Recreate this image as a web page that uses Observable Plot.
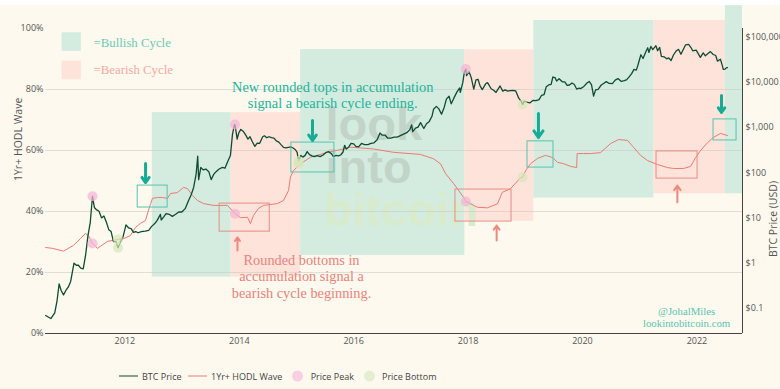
<!DOCTYPE html>
<html><head><meta charset="utf-8">
<script src="https://cdn.jsdelivr.net/npm/d3@7"></script>
<script src="https://cdn.jsdelivr.net/npm/@observablehq/plot@0.6"></script>
<style>
html,body{margin:0;padding:0;background:#fff;}
#wrap{position:relative;margin-top:5px;width:780px;height:384px;background:#fdf9ee;overflow:hidden;}
#legend{position:absolute;left:0;top:353px;width:780px;height:31px;font:9px "Open Sans",sans-serif;color:#444;}
.item{position:absolute;top:18px;transform:translateY(-50%);white-space:nowrap;line-height:1;}
</style></head><body><div id="wrap"><div id="chart"></div><div id="legend"></div></div>
<script>
// ---------- data ----------
const btcDates = [
 "2010-08-13","2010-09-15","2010-10-10","2010-10-25","2010-11-07","2010-11-20","2010-12-05","2010-12-20",
 "2011-01-05","2011-01-20","2011-02-10","2011-02-25","2011-03-10","2011-03-25","2011-04-10","2011-04-25","2011-05-10","2011-05-25","2011-06-08","2011-06-20","2011-07-05","2011-07-20","2011-08-05","2011-08-20","2011-09-05","2011-09-20","2011-10-05","2011-10-20","2011-11-05","2011-11-18","2011-12-05","2011-12-20",
 "2012-01-08","2012-01-25","2012-02-10","2012-02-25","2012-03-10","2012-03-25","2012-04-15","2012-05-10","2012-06-01","2012-06-20","2012-07-10","2012-07-25","2012-08-15","2012-08-20","2012-09-05","2012-09-20","2012-10-10","2012-10-30","2012-11-20","2012-12-10","2012-12-30",
 "2013-01-20","2013-02-10","2013-02-28","2013-03-15","2013-03-31","2013-04-10","2013-04-16","2013-04-30","2013-05-15","2013-06-01","2013-06-20","2013-07-05","2013-07-20","2013-08-05","2013-08-25","2013-09-15","2013-10-01","2013-10-20","2013-11-05","2013-11-18","2013-11-30","2013-12-04","2013-12-18","2013-12-28",
 "2014-01-10","2014-01-25","2014-02-10","2014-02-25","2014-03-10","2014-03-25","2014-04-10","2014-04-25","2014-05-10","2014-05-30","2014-06-10","2014-06-25","2014-07-10","2014-07-25","2014-08-10","2014-08-25","2014-09-10","2014-09-25","2014-10-10","2014-10-25","2014-11-10","2014-11-25","2014-12-10","2014-12-25",
 "2015-01-05","2015-01-14","2015-01-28","2015-02-10","2015-02-25","2015-03-10","2015-03-25","2015-04-10","2015-04-25","2015-05-15","2015-06-01","2015-06-20","2015-07-10","2015-07-25","2015-08-10","2015-08-25","2015-09-10","2015-09-25","2015-10-10","2015-10-25","2015-11-04","2015-11-15","2015-12-01","2015-12-15",
 "2016-01-01","2016-01-15","2016-02-01","2016-02-20","2016-03-10","2016-04-01","2016-04-20","2016-05-10","2016-05-30","2016-06-17","2016-07-01","2016-07-20","2016-08-05","2016-08-25","2016-09-15","2016-10-05","2016-10-25","2016-11-15","2016-12-05","2016-12-25",
 "2017-01-05","2017-01-12","2017-01-30","2017-02-15","2017-03-03","2017-03-24","2017-04-10","2017-04-28","2017-05-15","2017-05-25","2017-06-12","2017-06-28","2017-07-15","2017-08-01","2017-08-15","2017-09-01","2017-09-15","2017-10-01","2017-10-20","2017-11-08","2017-11-12","2017-11-28","2017-12-07","2017-12-17","2017-12-22",
 "2018-01-06","2018-01-20","2018-02-06","2018-02-20","2018-03-05","2018-03-18","2018-04-01","2018-04-25","2018-05-05","2018-05-28","2018-06-15","2018-06-28","2018-07-24","2018-08-10","2018-08-25","2018-09-10","2018-09-25","2018-10-15","2018-11-01","2018-11-20","2018-12-05","2018-12-15","2018-12-25",
 "2019-01-10","2019-01-30","2019-02-20","2019-03-10","2019-03-30","2019-04-15","2019-05-01","2019-05-15","2019-05-30","2019-06-15","2019-06-26","2019-07-10","2019-07-20","2019-08-05","2019-08-25","2019-09-10","2019-09-25","2019-10-10","2019-10-26","2019-11-10","2019-11-25","2019-12-10","2019-12-20",
 "2020-01-10","2020-01-30","2020-02-13","2020-02-28","2020-03-12","2020-03-25","2020-04-10","2020-04-30","2020-05-15","2020-06-01","2020-06-20","2020-07-10","2020-07-28","2020-08-15","2020-09-05","2020-09-25","2020-10-10","2020-10-25","2020-11-10","2020-11-25","2020-12-10","2020-12-20",
 "2021-01-08","2021-01-22","2021-02-08","2021-02-21","2021-02-28","2021-03-13","2021-03-25","2021-04-14","2021-04-25","2021-05-08","2021-05-19","2021-06-05","2021-06-22","2021-07-05","2021-07-20","2021-08-05","2021-08-22","2021-09-06","2021-09-21","2021-10-05","2021-10-20","2021-11-09","2021-11-25","2021-12-05","2021-12-27",
 "2022-01-10","2022-01-23","2022-02-10","2022-02-24","2022-03-28","2022-04-15","2022-05-01","2022-05-12","2022-05-31","2022-06-13","2022-06-18","2022-06-30","2022-07-10","2022-07-15"
];
const btcPrices = [
 0.07,0.06,0.08,0.15,0.35,0.25,0.20,0.25,
 0.30,0.40,1.0,0.90,0.90,0.78,0.75,1.5,4.0,8.0,30,17,15,14,10,11,8,5.5,5,3,3,2.2,3,3.8,
 7,6,5.8,4.8,5.0,4.7,5.0,5.1,5.3,6.5,7.5,8.8,12,9,10.5,12.5,12,10.8,12,13.5,13.5,
 16,24,33,47,93,230,70,130,115,120,105,70,90,105,120,130,125,180,240,700,1120,1150,550,750,
 900,820,680,550,620,480,380,450,440,620,650,590,620,590,580,500,470,410,360,350,360,370,350,320,
 280,180,240,220,240,290,250,235,225,238,225,245,280,290,265,225,240,235,245,285,400,330,370,440,
 430,380,370,440,415,415,440,455,530,750,670,670,580,575,610,610,655,710,760,890,
 1130,800,960,1010,1270,940,1200,1350,1750,2500,2900,2550,1950,2750,4200,4850,3300,4350,5900,7400,5900,9800,16000,19300,13900,
 17000,12800,7000,11200,11500,8200,6800,9300,9700,7100,6500,5900,8200,6300,6700,6300,6450,6500,6350,4400,3800,3200,3800,
 3600,3450,3950,3900,4100,5100,5300,7900,8600,8900,12900,12500,10500,11800,10100,10100,8400,8600,9500,8800,7000,7300,7150,
 8000,9500,10300,8700,4900,6700,6900,8600,9300,10200,9300,9250,11000,11900,10300,10700,11300,13000,15300,19000,18300,23500,
 40000,33000,46000,57000,45000,61000,52000,63500,49000,58000,37000,36000,32500,34000,29800,40000,49000,52500,41000,51500,66000,67500,57000,49000,50700,
 41800,35000,44000,38000,47000,40500,38500,29000,31800,22500,19000,19300,20800,20800
];
const hodlDates = [
 "2010-08-13","2010-09-27","2010-12-05","2011-02-07","2011-03-23","2011-04-24","2011-05-13","2011-06-08","2011-07-10","2011-09-12","2011-11-14","2011-12-23",
 "2012-02-05","2012-03-09","2012-04-09","2012-05-11","2012-05-30","2012-06-25","2012-07-27","2012-08-28","2012-09-29","2012-10-18","2012-12-01",
 "2013-01-10","2013-02-04","2013-03-08","2013-04-09","2013-05-17","2013-07-20","2013-10-17","2013-12-04",
 "2014-01-08","2014-02-22","2014-03-13","2014-04-01","2014-05-03","2014-06-04","2014-09-01","2014-10-10","2014-11-11","2014-11-23","2014-12-12",
 "2015-01-26","2015-03-31","2015-07-18","2015-10-28","2015-12-11","2016-05-07","2016-09-12",
 "2017-01-17","2017-03-03","2017-05-25","2017-07-09","2017-08-10","2017-10-01","2017-12-02","2017-12-17",
 "2018-03-01","2018-05-04","2018-07-07","2018-08-07","2018-09-27","2018-12-02","2018-12-15",
 "2019-01-03","2019-02-04","2019-03-20","2019-05-10","2019-06-24","2019-07-26","2019-09-02","2019-10-17","2019-11-25","2019-11-28",
 "2020-01-08","2020-02-22","2020-04-25","2020-06-29","2020-08-19","2020-10-15","2020-11-23",
 "2021-01-06","2021-02-20","2021-04-24","2021-06-27","2021-08-05","2021-10-08","2021-11-22","2021-12-24",
 "2022-01-24","2022-03-10","2022-04-17","2022-06-01","2022-07-15"
];
const hodlPct = [
 28.2,27.9,27.0,28.9,31.1,32.8,32.1,29.5,27.9,30.2,30.8,31.1,
 32.1,34.8,36.1,37.0,40.3,44.3,44.6,44.6,44.3,45.9,46.2,
 47.9,47.5,45.2,43.6,42.6,42.0,42.0,39.3,
 38.0,38.1,36.0,38.7,41.0,42.0,42.6,43.6,46.9,51.3,53.4,
 55.6,57.8,59.4,60.5,61.1,60.5,59.4,
 58.9,58.7,57.3,55.6,52.4,49.1,44.7,43.3,
 41.4,41.2,42.5,46.3,47.4,51.1,51.2,
 53.4,55.7,57.4,58.4,57.7,56.1,55.7,54.8,54.4,59.0,
 59.0,59.0,59.3,62.3,63.6,63.3,61.0,
 58.4,56.7,55.4,54.4,54.1,54.1,54.8,57.7,
 60.0,62.6,64.3,65.6,64.9
];
const peakDates = ["2011-06-08","2013-12-04","2017-12-17"];
const bottomDates = ["2011-11-18","2015-01-14","2018-12-15"];

// cycle shading (x range, y range in %)
const cycleType  = ["bull","bear","bull","bear","bull","bear","bull"];
const cycleStart = ["2012-06-24","2013-11-10","2015-01-27","2017-12-11","2019-02-24","2021-04-01","2022-07-02"];
const cycleEnd   = ["2013-11-10","2015-01-27","2017-12-11","2019-02-24","2021-04-01","2022-07-02","2022-10-19"];
const cycleLow   = [18.5,18.5,25.6,36.8,44.4,45.8,45.8];
const cycleHigh  = [72.4,72.4,93.1,93.0,102.6,102.6,107.5];

// annotation boxes and arrows
const tealBoxX1 = ["2012-03-23","2014-11-29","2019-01-15","2022-04-17"];
const tealBoxX2 = ["2012-09-30","2015-08-31","2019-06-30","2022-09-11"];
const tealBoxY1 = [41.3,52.8,54.4,63.3];
const tealBoxY2 = [48.5,62.6,63.0,70.2];
const redBoxX1 = ["2013-08-28","2017-10-12","2021-04-18"];
const redBoxX2 = ["2014-07-14","2018-10-05","2022-01-05"];
const redBoxY1 = [33.4,36.7,50.8];
const redBoxY2 = [42.6,47.2,59.7];
const tealArrowX = ["2012-05-12","2015-04-13","2019-03-26","2022-06-07"];
const tealArrowFrom = [55.7,69.8,72.1,78.0];
const tealArrowTo = [49.5,63.3,64.3,72.5];
const redArrowX = ["2013-12-20","2018-07-02","2021-08-29"];
const redArrowFrom = [27.2,30.5,43.0];
const redArrowTo = [31.5,35.4,48.5];

// texts
const topNote = "New rounded tops in accumulation\nsignal a bearish cycle ending.";
const bottomNote = "Rounded bottoms in\naccumulation signal a\nbearish cycle beginning.";
const keyLabels = ["=Bullish Cycle","=Bearish Cycle"];
const creditLines = ["@JohalMiles","lookintobitcoin.com"];
const yearTicks = [2012,2014,2016,2018,2020,2022];
const pctTicks = [0,20,40,60,80,100];
const gridPct = [20,40,60,80];
const priceTicks = [0.1,1,10,100,1000,10000,100000];
const priceLabels = ["$0.1","$1","$10","$100","$1,000","$10,000","$100,000"];
const legendLabels = ["BTC Price","1Yr+ HODL Wave","Price Peak","Price Bottom"];

// ---------- build ----------
const D = s => new Date(s);
const X0 = D("2010-08-12"), X1 = D("2022-10-19");
const GREEN = "#d3ecdf", PINK = "#fde3da";
const BTC_C = "#0e4b32", HODL_C = "#ec7a71", TEAL = "#24b39b", RED = "#e5837b";
const priceScale = d3.scaleLog().domain([0.02805, 152000]).range([0, 100]);

const btc = btcDates.map((d, i) => ({date: D(d), price: btcPrices[i]}));
const hodl = hodlDates.map((d, i) => ({date: D(d), pct: hodlPct[i]}));
const near = (arr, date) => arr[d3.bisector(d => d.date).center(arr, date)];
const markers = dates => dates.flatMap(s => {
  const dt = D(s);
  return [{date: dt, y: priceScale(near(btc, dt).price)}, {date: dt, y: near(hodl, dt).pct}];
});
const cycles = cycleType.map((t, i) => ({t, x1: D(cycleStart[i]), x2: D(cycleEnd[i]), y1: cycleLow[i], y2: cycleHigh[i]}));
const tealBoxes = tealBoxX1.map((d, i) => ({x1: D(d), x2: D(tealBoxX2[i]), y1: tealBoxY1[i], y2: tealBoxY2[i]}));
const redBoxes = redBoxX1.map((d, i) => ({x1: D(d), x2: D(redBoxX2[i]), y1: redBoxY1[i], y2: redBoxY2[i]}));
const tealArrows = tealArrowX.map((d, i) => ({x: D(d), y1: tealArrowFrom[i], y2: tealArrowTo[i]}));
const redArrows = redArrowX.map((d, i) => ({x: D(d), y1: redArrowFrom[i], y2: redArrowTo[i]}));
const keyBoxes = [{x1: D("2010-11-26"), x2: D("2011-03-29"), y1: 92.5, y2: 98.6, f: GREEN},
                  {x1: D("2010-11-26"), x2: D("2011-03-29"), y1: 83.2, y2: 89.3, f: PINK}];
const keyText = [{x: D("2011-06-15"), y: 93.8, t: keyLabels[0], c: "#6cc9b4"},
                 {x: D("2011-06-15"), y: 85.2, t: keyLabels[1], c: "#f2aaa1"}];

const serif = "'Liberation Serif', serif";
const chart = Plot.plot({
  width: 780, height: 353,
  marginTop: 23, marginBottom: 25, marginLeft: 45, marginRight: 38,
  x: {type: "utc", domain: [X0, X1], label: null},
  y: {domain: [0, 100], label: null},
  style: {background: "#fdf9ee", fontFamily: "'Open Sans', sans-serif", fontSize: "9px", color: "#555", overflow: "visible"},
  marks: [
    Plot.rect(cycles.filter(d => d.t === "bull"), {x1: "x1", x2: "x2", y1: "y1", y2: "y2", fill: GREEN}),
    Plot.rect(cycles.filter(d => d.t === "bear"), {x1: "x1", x2: "x2", y1: "y1", y2: "y2", fill: PINK}),
    Plot.rect(keyBoxes, {x1: "x1", x2: "x2", y1: "y1", y2: "y2", fill: "f"}),
    Plot.text(keyText, {x: "x", y: "y", text: "t", fill: "c", textAnchor: "start", lineAnchor: "bottom", fontFamily: serif, fontSize: 12.8}),
    // watermark
    Plot.text([{x: D("2015-07-05"), y: 63.3, t: "look"}, {x: D("2015-07-05"), y: 49.2, t: "into"}],
      {x: "x", y: "y", text: "t", fill: "#c2d4c8", textAnchor: "start", lineAnchor: "bottom", fontFamily: "'Liberation Sans', sans-serif", fontWeight: "bold", fontSize: 47}),
    Plot.text([{x: D("2015-06-25"), y: 35.4, t: "bitcoin"}],
      {x: "x", y: "y", text: "t", fill: "#d8ebcd", textAnchor: "start", lineAnchor: "bottom", fontFamily: "'Liberation Sans', sans-serif", fontWeight: "bold", fontSize: 47}),
    Plot.ruleY(gridPct, {stroke: "#c9c8c0", strokeOpacity: 0.55}),
    Plot.ruleY([0], {stroke: "#444"}),
    Plot.ruleX([X1], {y1: 0, y2: 100, stroke: "#444"}),
    Plot.axisY(pctTicks, {anchor: "left", tickSize: 0, tickPadding: 2, tickFormat: d => d + "%", label: null, fill: "#555"}),
    Plot.axisY(priceTicks.map(p => priceScale(p)), {anchor: "right", tickSize: 0, tickPadding: 3, label: null, fill: "#555",
      tickFormat: d => priceLabels[priceTicks.findIndex(p => Math.abs(priceScale(p) - d) < 1e-6)]}),
    Plot.axisX(yearTicks.map(y => D(`${y}-01-01`)), {tickSize: 0, tickPadding: 4, tickFormat: d3.utcFormat("%Y"), label: null, fill: "#555"}),
    Plot.text(["1Yr+ HODL Wave"], {frameAnchor: "left", rotate: -90, dx: -27, fontSize: 10.5, fill: "#555"}),
    Plot.text(["BTC Price (USD)"], {frameAnchor: "right", rotate: -90, dx: 31, fontSize: 10.5, fill: "#555"}),
    // series
    Plot.line(hodl, {x: "date", y: "pct", stroke: HODL_C, strokeWidth: 1}),
    Plot.line(btc, {x: "date", y: d => priceScale(d.price), stroke: BTC_C, strokeWidth: 1.3}),
    Plot.dot(markers(peakDates), {x: "date", y: "y", r: 5, fill: "#f3b3d6", fillOpacity: 0.7}),
    Plot.dot(markers(bottomDates), {x: "date", y: "y", r: 5, fill: "#d6e7b8", fillOpacity: 0.7}),
    // annotations
    Plot.rect(tealBoxes, {x1: "x1", x2: "x2", y1: "y1", y2: "y2", fill: "none", stroke: "#55c4b0", strokeWidth: 1}),
    Plot.rect(redBoxes, {x1: "x1", x2: "x2", y1: "y1", y2: "y2", fill: "none", stroke: "#e68c87", strokeWidth: 1}),
    Plot.arrow(tealArrows, {x: "x", y1: "y1", y2: "y2", stroke: "#18ab93", strokeWidth: 3, headLength: 9, headAngle: 70}),
    Plot.arrow(redArrows, {x: "x", y1: "y1", y2: "y2", stroke: "#ec8a80", strokeWidth: 2, headLength: 6, headAngle: 70}),
    Plot.text([{x: D("2015-08-20"), y: 73.8, t: topNote}], {x: "x", y: "y", text: "t", fill: TEAL, textAnchor: "middle", lineAnchor: "bottom", lineHeight: 1.11, fontFamily: serif, fontSize: 14.4}),
    Plot.text([{x: D("2015-02-02"), y: 11.8, t: bottomNote}], {x: "x", y: "y", text: "t", fill: RED, textAnchor: "middle", lineAnchor: "bottom", lineHeight: 1.15, fontFamily: serif, fontSize: 14.3}),
    Plot.text([{x: D("2021-10-27"), y: 6.2, t: creditLines[0]}, {x: D("2021-10-27"), y: 2.0, t: creditLines[1]}],
      {x: "x", y: "y", text: "t", fill: "#5cc4b0", textAnchor: "middle", lineAnchor: "bottom", fontFamily: serif, fontSize: 10.8})
  ]
});
document.getElementById("chart").appendChild(chart);

// ---------- bottom legend ----------
const lg = document.getElementById("legend");
const swatches = [
  {kind: "line", color: BTC_C, sx: 118.6, tx: 142},
  {kind: "line", color: HODL_C, sx: 187.5, tx: 211},
  {kind: "dot", color: "#f9cfe3", sx: 292, tx: 310.7},
  {kind: "dot", color: "#e4efd2", sx: 364, tx: 382}
];
swatches.forEach((s, i) => {
  const sw = document.createElement("div");
  sw.className = "item";
  sw.style.left = s.sx + "px";
  if (s.kind === "line") { sw.style.width = "19px"; sw.style.height = "0"; sw.style.borderTop = `1.5px solid ${s.color}`; }
  else { sw.style.width = "11px"; sw.style.height = "11px"; sw.style.borderRadius = "50%"; sw.style.background = s.color; }
  lg.appendChild(sw);
  const tx = document.createElement("div");
  tx.className = "item";
  tx.style.left = s.tx + "px";
  tx.textContent = legendLabels[i];
  lg.appendChild(tx);
});
</script></body></html>
